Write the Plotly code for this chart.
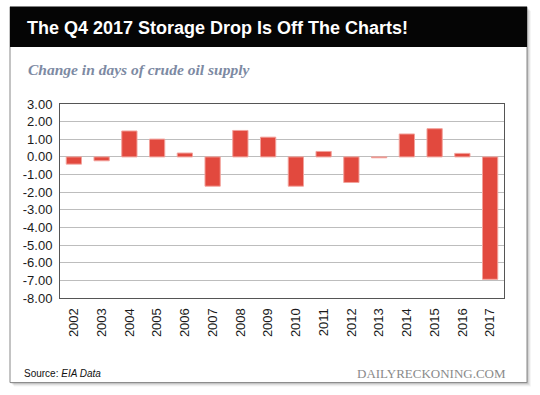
import plotly.graph_objects as go

years = ["2002", "2003", "2004", "2005", "2006", "2007", "2008", "2009",
         "2010", "2011", "2012", "2013", "2014", "2015", "2016", "2017"]
change_days = [-0.41, -0.22, 1.47, 1.01, 0.22, -1.66, 1.50, 1.12,
               -1.66, 0.31, -1.45, -0.05, 1.30, 1.60, 0.20, -6.94]
y_ticks = [3, 2, 1, 0, -1, -2, -3, -4, -5, -6, -7, -8]
y_ticktext = [f"{v:.2f}" for v in y_ticks]

W, H = 540, 395
ML, MR, MT, MB = 60, 36, 104, 97.4
PW, PH = W - ML - MR, H - MT - MB


def px(x):
    return (x - ML) / PW


def py(y):
    return (H - MB - y) / PH


fig = go.Figure()
fig.add_trace(go.Bar(
    x=years, y=change_days,
    marker=dict(color="#e2493e", line=dict(color="#f2a29c", width=1)),
    width=0.55,
))

shapes = []
# card shadow
for i, op in enumerate([0.10, 0.08, 0.06, 0.04]):
    d = i + 1
    shapes.append(dict(type="rect", xref="paper", yref="paper",
                       x0=px(10 + d), x1=px(527 + d), y0=py(382 + d), y1=py(7 + d),
                       line=dict(width=0), fillcolor=f"rgba(0,0,0,{op})", layer="below"))
# card
shapes.append(dict(type="rect", xref="paper", yref="paper",
                   x0=px(10), x1=px(527), y0=py(382), y1=py(7),
                   line=dict(color="#888888", width=1), fillcolor="white", layer="below"))
# header
shapes.append(dict(type="rect", xref="paper", yref="paper",
                   x0=px(10), x1=px(527), y0=py(47), y1=py(7),
                   line=dict(width=0), fillcolor="#050505", layer="below"))

annotations = [
    dict(text="<b>The Q4 2017 Storage Drop Is Off The Charts!</b>",
         xref="paper", yref="paper", x=px(25), y=py(28), xanchor="left", yanchor="middle",
         showarrow=False, font=dict(family="Liberation Sans, Arial", size=18, color="white")),
    dict(text="<b><i>Change in days of crude oil supply</i></b>",
         xref="paper", yref="paper", x=px(26), y=py(70), xanchor="left", yanchor="middle",
         showarrow=False, font=dict(family="Liberation Serif, DejaVu Serif", size=15.5, color="#7d8aa3")),
    dict(text="Source: <i>EIA Data</i>",
         xref="paper", yref="paper", x=px(22), y=py(373), xanchor="left", yanchor="middle",
         showarrow=False, font=dict(family="Liberation Sans, Arial", size=10, color="#111111")),
    dict(text="DAILYRECKONING.COM",
         xref="paper", yref="paper", x=px(508), y=py(373), xanchor="right", yanchor="middle",
         showarrow=False, font=dict(family="Liberation Serif, DejaVu Serif", size=13, color="#8a8a8a")),
]

fig.update_layout(
    width=W, height=H,
    margin=dict(l=ML, r=MR, t=MT, b=MB, pad=0),
    paper_bgcolor="white", plot_bgcolor="white",
    showlegend=False,
    shapes=shapes, annotations=annotations,
    font=dict(family="Liberation Sans, Arial", size=13, color="#1a1a1a"),
    bargap=0.45,
)
fig.update_xaxes(
    type="category", tickangle=-90, showgrid=False,
    showline=True, mirror=True, linecolor="#555555", linewidth=1,
    ticks="", ticklabelstandoff=4, tickfont=dict(size=13),
)
fig.update_yaxes(
    range=[-8, 3], tickvals=y_ticks, ticktext=y_ticktext,
    showgrid=True, gridcolor="#bdbdbd", gridwidth=1,
    zeroline=True, zerolinecolor="#bdbdbd", zerolinewidth=1,
    showline=True, mirror=True, linecolor="#555555", linewidth=1,
    ticks="", ticklabelstandoff=4, tickfont=dict(size=13),
)

fig.write_html("out.html", config={"displayModeBar": False},
               post_script="document.body.style.margin='0';")
